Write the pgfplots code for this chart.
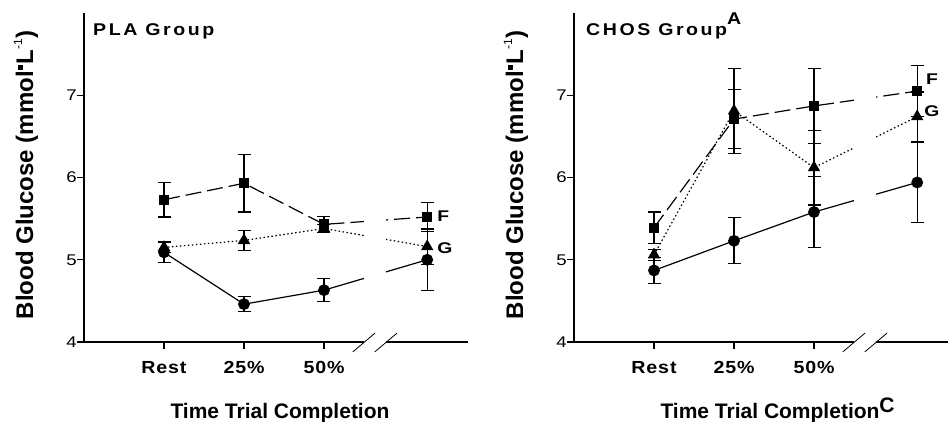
\documentclass[border=0pt]{standalone}
\usepackage{fontspec}
\setmainfont{Liberation Sans}
\newfontfamily\titlefont{Liberation Sans}[FakeStretch=1.15, LetterSpace=15]
\newfontfamily\xtickfont{Liberation Sans}[FakeStretch=1.12, LetterSpace=5]
\newfontfamily\ytickfont{Liberation Sans}[FakeStretch=1.2]
\newfontfamily\fgfont{Liberation Sans}[FakeStretch=1.25]
\usepackage{pgfplots}
\pgfplotsset{compat=1.18}
\usepackage{pgfplotstable}

\pgfplotstableread{
x y e
0 5.73 0.21
1 5.93 0.35
2 5.43 0.10
3.29 5.52 0.175
}\plaF
\pgfplotstableread{
x y e
0 5.15 0.065
1 5.235 0.125
2 5.38 0.05
3.29 5.16 0.22
}\plaG
\pgfplotstableread{
x y e
0 5.09 0.12
1 4.46 0.09
2 4.63 0.14
3.29 5.00 0.375
}\plaC
\pgfplotstableread{
x y e
0 5.39 0.19
1 6.71 0.36
2 6.87 0.46
3.29 7.05 0.31
}\chosF
\pgfplotstableread{
x y e
0 5.06 0.065
1 6.81 0.52
2 6.12 0.455
3.29 6.74 0.30
}\chosG
\pgfplotstableread{
x y e
0 4.87 0.16
1 5.23 0.28
2 5.58 0.43
3.29 5.94 0.49
}\chosC

\tikzset{fg/.style={font=\fgfont\bfseries\fontsize{15.5}{18}\selectfont}}

\pgfplotsset{
  panel/.style={
    scale only axis, width=384pt, height=329pt,
    xmin=-1, xmax=3.8, ymin=4, ymax=8,
    axis lines*=left,
    axis line style={line width=1.1pt},
    x axis line style={draw=none},
    tick align=outside, major tick length=7pt,
    tick style={line width=1.1pt, black},
    xtick={0,1,2}, xticklabels={Rest,25\%,50\%},
    ytick={4,5,6,7},
    xticklabel style={font=\xtickfont\bfseries\fontsize{17.5}{20}\selectfont, inner sep=0pt, anchor=north, yshift=-12pt},
    yticklabel style={font=\ytickfont\fontsize{15.5}{18}\selectfont, inner sep=0pt, anchor=east},
    /pgf/number format/assume math mode=true,
    clip=false,
  },
  ebar/.style={
    error bars/.cd, y dir=both, y explicit,
    error bar style={solid, line width=1.2pt, black},
    error mark options={rotate=90, solid, line width=1.2pt, mark size=6.5pt, black},
  },
  sq/.style={black, line width=1.2pt, dash pattern=on 16pt off 6pt, mark=square*, mark size=4.5pt, mark options={solid, fill=black}},
  tri/.style={black, line width=1.2pt, dash pattern=on 1.5pt off 2.5pt, mark=triangle*, mark size=6pt, mark options={solid, fill=black}},
  circ/.style={black, line width=1.2pt, solid, mark=*, mark size=5.3pt, mark options={solid, fill=black}},
}

\begin{document}
\begin{tikzpicture}
\useasboundingbox (0pt,0pt) rectangle (948pt,421pt);

\begin{axis}[panel, at={(84pt,79pt)}, anchor=south west]
\addplot[circ, ebar] table[x=x, y=y, y error=e] {\plaC};
\addplot[tri, ebar] table[x=x, y=y, y error=e] {\plaG};
\addplot[sq, ebar] table[x=x, y=y, y error=e] {\plaF};
\fill[white] (axis cs:2.5,3.9) rectangle (axis cs:2.77,7.9);
\draw[line width=1.1pt] (axis cs:-1,4) -- (axis cs:2.5,4);
\draw[line width=1.1pt] (axis cs:2.77,4) -- (axis cs:3.8,4);
\draw[line width=0.8pt] (axis cs:2.36,3.88) -- (axis cs:2.64,4.11);
\draw[line width=0.8pt] (axis cs:2.635,3.88) -- (axis cs:2.915,4.11);
\node[fg] at (axis cs:3.49,5.53) {F};
\node[fg] at (axis cs:3.51,5.14) {G};
\end{axis}

\begin{axis}[panel, at={(574pt,79pt)}, anchor=south west]
\addplot[circ, ebar] table[x=x, y=y, y error=e] {\chosC};
\addplot[tri, ebar] table[x=x, y=y, y error=e] {\chosG};
\addplot[sq, ebar] table[x=x, y=y, y error=e] {\chosF};
\fill[white] (axis cs:2.5,3.9) rectangle (axis cs:2.77,7.9);
\draw[line width=1.1pt] (axis cs:-1,4) -- (axis cs:2.5,4);
\draw[line width=1.1pt] (axis cs:2.77,4) -- (axis cs:3.8,4);
\draw[line width=0.8pt] (axis cs:2.36,3.88) -- (axis cs:2.64,4.11);
\draw[line width=0.8pt] (axis cs:2.635,3.88) -- (axis cs:2.915,4.11);
\node[fg] at (axis cs:3.475,7.20) {F};
\node[fg] at (axis cs:3.475,6.81) {G};
\end{axis}

\node[anchor=base west, inner sep=0pt, font=\titlefont\bfseries\fontsize{17}{20}\selectfont] at (93pt,385pt) {PLA Group};
\node[anchor=base west, inner sep=0pt, font=\titlefont\bfseries\fontsize{17}{20}\selectfont] at (586pt,385pt) {CHOS Group\raisebox{11pt}{A}};

\node[rotate=90, anchor=base, inner sep=0pt, font=\bfseries\fontsize{24}{28}\selectfont] at (33pt,246pt) {Blood Glucose (mmol\kern1pt\rule[10.5pt]{5pt}{5pt}\kern1pt L\raisebox{11pt}{\mdseries\fontsize{12}{12}\selectfont -1})};
\node[rotate=90, anchor=base, inner sep=0pt, font=\bfseries\fontsize{24}{28}\selectfont] at (523pt,246pt) {Blood Glucose (mmol\kern1pt\rule[10.5pt]{5pt}{5pt}\kern1pt L\raisebox{11pt}{\mdseries\fontsize{12}{12}\selectfont -1})};

\node[anchor=base, inner sep=0pt, font=\bfseries\fontsize{21}{24}\selectfont] at (280pt,3pt) {Time Trial Completion};
\node[anchor=base, inner sep=0pt, font=\bfseries\fontsize{21}{24}\selectfont] at (770pt,3pt) {Time Trial Completion\rlap{\raisebox{6pt}{C}}};
\end{tikzpicture}
\end{document}
